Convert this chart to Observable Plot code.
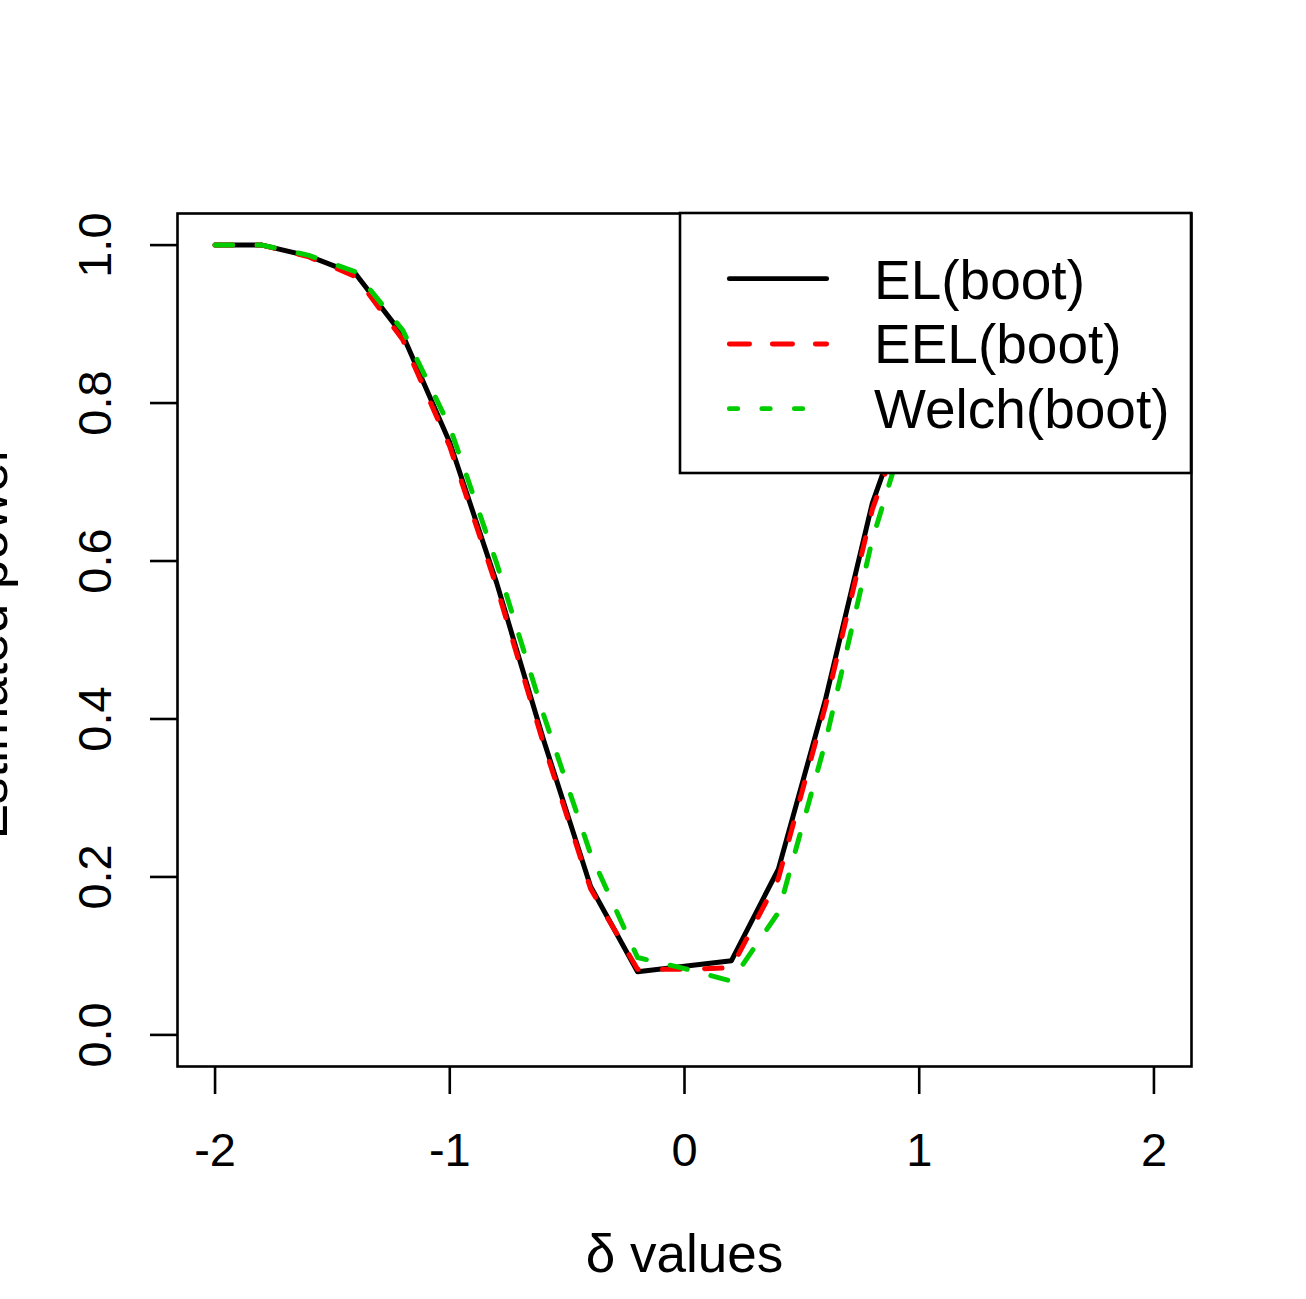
<!DOCTYPE html>
<html><head><meta charset="utf-8">
<script src="https://cdn.jsdelivr.net/npm/d3@7"></script>
<script src="https://cdn.jsdelivr.net/npm/@observablehq/plot@0.6"></script>
<style>
body{margin:0;background:#fff;}
#wrap{position:relative;width:1306px;height:1299px;background:#fff;}
#legend{position:absolute;left:678px;top:211px;}
</style></head><body><div id="wrap"></div>
<script>
const delta = [-2, -1.8, -1.6, -1.4, -1.2, -1.0, -0.8, -0.6, -0.4, -0.2, 0, 0.2, 0.4, 0.6, 0.8, 1.0, 1.2, 1.4, 1.6, 1.8, 2.0];
const elBoot    = [1.000, 1.000, 0.986, 0.963, 0.886, 0.750, 0.572, 0.373, 0.188, 0.080, 0.087, 0.094, 0.210, 0.424, 0.673, 0.840, 0.950, 0.988, 0.998, 1.000, 1.000];
const eelBoot   = [1.000, 1.000, 0.985, 0.960, 0.880, 0.745, 0.567, 0.368, 0.185, 0.083, 0.083, 0.085, 0.198, 0.416, 0.665, 0.833, 0.945, 0.985, 0.997, 1.000, 1.000];
const welchBoot = [1.000, 1.000, 0.987, 0.966, 0.892, 0.770, 0.597, 0.405, 0.229, 0.098, 0.084, 0.068, 0.155, 0.370, 0.627, 0.822, 0.930, 0.980, 0.996, 1.000, 1.000];
const xTicks = [-2, -1, 0, 1, 2];
const yTicks = [0, 0.2, 0.4, 0.6, 0.8, 1.0];
const seriesNames = ["EL(boot)", "EEL(boot)", "Welch(boot)"];
const seriesColors = ["#000000", "#FF0000", "#00CD00"];
const xTitle = "δ values";
const yTitle = "Estimated power";

const FONT = "'Liberation Sans', Arial, Helvetica, sans-serif";
const rows = (vals) => delta.map((d, i) => ({x: d, y: vals[i]}));

const LW = 5;
const chart = Plot.plot({
  width: 1306, height: 1299,
  marginLeft: 177, marginRight: 115, marginTop: 213, marginBottom: 233,
  style: {fontFamily: FONT, fontSize: "47px", background: "#fff", color: "#000"},
  x: {domain: [-2.16, 2.16]},
  y: {domain: [-0.04, 1.04]},
  marks: [
    Plot.line(rows(elBoot), {x: "x", y: "y", stroke: seriesColors[0], strokeWidth: LW, strokeLinejoin: "round", strokeLinecap: "round"}),
    Plot.line(rows(eelBoot), {x: "x", y: "y", stroke: seriesColors[1], strokeWidth: LW, strokeDasharray: "17.5,24.5", strokeLinejoin: "round", strokeLinecap: "round"}),
    Plot.line(rows(welchBoot), {x: "x", y: "y", stroke: seriesColors[2], strokeWidth: LW, strokeDasharray: "17.5,24.5", strokeLinejoin: "round", strokeLinecap: "round"}),
    Plot.frame({stroke: "#000", strokeWidth: 2.6}),
    Plot.axisX({ticks: xTicks, tickSize: 28, tickPadding: 38, strokeWidth: 2.6, label: null,
      tickFormat: d => (d < 0 ? "-" + Math.abs(d) : String(d))}),
    Plot.axisY({ticks: yTicks, tickSize: 27, strokeWidth: 2.6, label: null, tickFormat: () => ""}),
    Plot.text(yTicks, {y: d => d, text: d => d.toFixed(1), frameAnchor: "left", dx: -67, rotate: -90,
      textAnchor: "middle", lineAnchor: "bottom", fontSize: 47, fill: "#000"}),
    Plot.text([xTitle], {text: d => d, frameAnchor: "bottom", dy: 205, lineAnchor: "bottom", fontSize: 53, fill: "#000"}),
    Plot.text([yTitle], {text: d => d, frameAnchor: "left", dx: -171, dy: 2, rotate: -90, lineAnchor: "bottom",
      textAnchor: "middle", fontSize: 53, fill: "#000"})
  ]
});
const wrap = document.getElementById("wrap");
wrap.appendChild(chart);

// legend (top-right, inside frame, opaque)
const lg = d3.create("svg").attr("id", "legend").attr("width", 515).attr("height", 265);
lg.append("rect").attr("x", 2).attr("y", 2).attr("width", 511).attr("height", 260)
  .attr("fill", "#fff").attr("stroke", "#000").attr("stroke-width", 2.6);
const dashes = [null, "20.3,22.7", "8.5,24"];
const rowY = [67.7, 133, 197.7];
const baseY = [88, 152, 217];
seriesNames.forEach((name, i) => {
  const ln = lg.append("line").attr("x1", 51.3).attr("x2", 148.7).attr("y1", rowY[i]).attr("y2", rowY[i])
    .attr("stroke", seriesColors[i]).attr("stroke-width", 4.8).attr("stroke-linecap", "round");
  if (dashes[i]) ln.attr("stroke-dasharray", dashes[i]);
  lg.append("text").attr("x", 196).attr("y", baseY[i]).attr("font-family", FONT).attr("font-size", 55)
    .attr("fill", "#000").text(name);
});
wrap.appendChild(lg.node());
</script>
</body></html>
